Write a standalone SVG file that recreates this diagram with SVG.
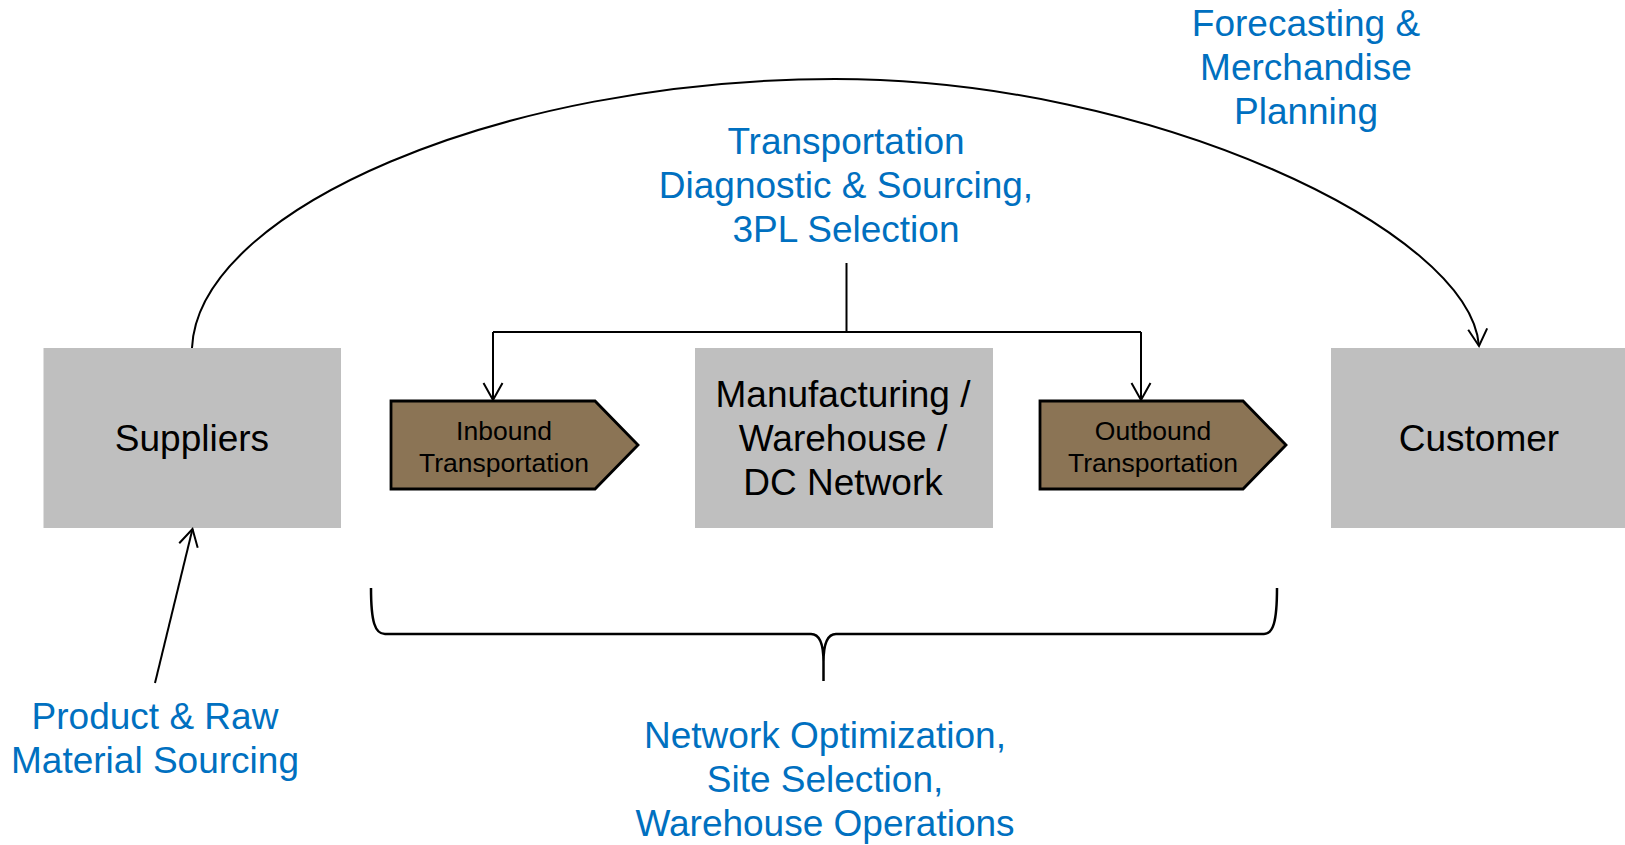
<svg xmlns="http://www.w3.org/2000/svg" width="1625" height="845" viewBox="0 0 1625 845">
  <style>
    .box { fill: #BFBFBF; }
    .chev { fill: #8B7455; stroke: #000; stroke-width: 2.8; stroke-linejoin: miter; }
    .lbl { font-family: "Liberation Sans", Arial, sans-serif; font-size: 37px; fill: #000; text-anchor: middle; }
    .small { font-family: "Liberation Sans", Arial, sans-serif; font-size: 26.5px; fill: #000; text-anchor: middle; }
    .note { font-family: "Liberation Sans", Arial, sans-serif; font-size: 37px; fill: #0070C0; text-anchor: middle; }
    .wire { fill: none; stroke: #000; stroke-width: 2; }
    .brace { fill: none; stroke: #000; stroke-width: 2.5; stroke-linejoin: round; }
  </style>
  <defs>
    <marker id="openArrow" viewBox="0 0 22 22" refX="20" refY="11" markerWidth="22" markerHeight="22" markerUnits="userSpaceOnUse" orient="auto">
      <path d="M3,1.5 L20,11 L3,20.5" fill="none" stroke="#000" stroke-width="2"/>
    </marker>
  </defs>

  <!-- nodes -->
  <g id="suppliers">
    <rect class="box" x="43.5" y="348" width="297.5" height="180"/>
    <text class="lbl" x="192" y="451">Suppliers</text>
  </g>

  <g id="inbound">
    <path class="chev" d="M391,401 L595,401 L638,445 L595,489 L391,489 Z"/>
    <text class="small" x="504" y="440">Inbound</text>
    <text class="small" x="504" y="472">Transportation</text>
  </g>

  <g id="network">
    <rect class="box" x="695" y="348" width="298" height="180"/>
    <text class="lbl" x="843" y="407">Manufacturing /</text>
    <text class="lbl" x="843" y="451">Warehouse /</text>
    <text class="lbl" x="843" y="495">DC Network</text>
  </g>

  <g id="outbound">
    <path class="chev" d="M1040,401 L1243,401 L1286,445 L1243,489 L1040,489 Z"/>
    <text class="small" x="1153" y="440">Outbound</text>
    <text class="small" x="1153" y="472">Transportation</text>
  </g>

  <g id="customer">
    <rect class="box" x="1331" y="348" width="294" height="180"/>
    <text class="lbl" x="1479" y="451">Customer</text>
  </g>

  <!-- capability labels -->
  <g id="label-forecasting">
    <text class="note" x="1306" y="36">Forecasting &amp;</text>
    <text class="note" x="1306" y="80">Merchandise</text>
    <text class="note" x="1306" y="124">Planning</text>
  </g>

  <g id="label-transportation">
    <text class="note" x="846" y="154">Transportation</text>
    <text class="note" x="846" y="198">Diagnostic &amp; Sourcing,</text>
    <text class="note" x="846" y="242">3PL Selection</text>
  </g>

  <g id="label-sourcing">
    <text class="note" x="155" y="729">Product &amp; Raw</text>
    <text class="note" x="155" y="773">Material Sourcing</text>
  </g>

  <g id="label-network">
    <text class="note" x="825" y="748">Network Optimization,</text>
    <text class="note" x="825" y="792">Site Selection,</text>
    <text class="note" x="825" y="836">Warehouse Operations</text>
  </g>

  <!-- connectors -->
  <g id="connectors">
    <!-- supplier-to-customer arc -->
    <path class="wire" d="M192,348 C198,210 500,79 835,79 C1150,79 1470,230 1479,346" marker-end="url(#openArrow)"/>
    <!-- transportation trunk and branches -->
    <path class="wire" d="M846.5,263 L846.5,332 M493,332 L1141,332"/>
    <path class="wire" d="M493,332 L493,400" marker-end="url(#openArrow)"/>
    <path class="wire" d="M1141,332 L1141,400" marker-end="url(#openArrow)"/>
    <!-- sourcing arrow into suppliers -->
    <path class="wire" d="M155,683 L192.5,529" marker-end="url(#openArrow)"/>
    <!-- brace spanning the network section -->
    <path class="brace" d="M371,588 C371,622 375,634 385,634 L811,634 C819,634 823.5,642 823.5,662 L823.5,681 M823.5,662 C823.5,642 828,634 836,634 L1264,634 C1273,634 1277,622 1277,588"/>
  </g>
</svg>
